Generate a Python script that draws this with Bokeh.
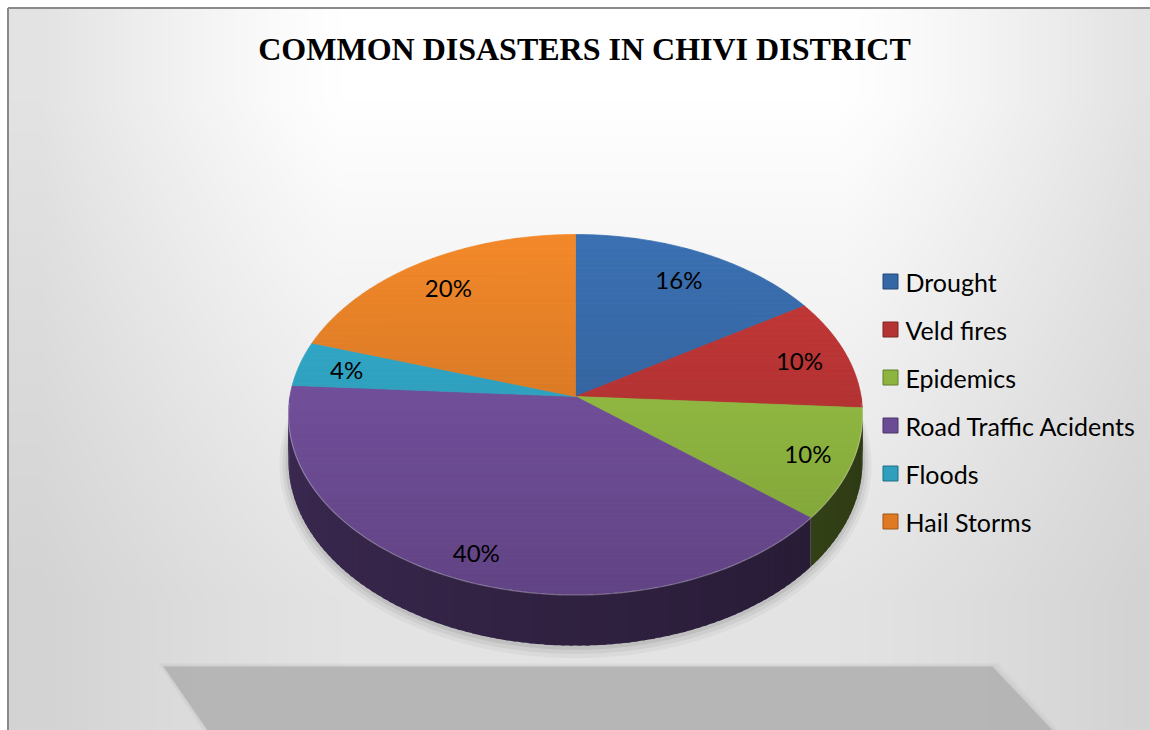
import numpy as np
from bokeh.plotting import figure
from bokeh.models import Range1d
from bokeh.core.properties import value
from bokeh.embed import file_html
from bokeh.resources import INLINE

# ---------------- data ----------------
categories = ["Drought", "Veld fires", "Epidemics", "Road Traffic Acidents", "Floods", "Hail Storms"]
percent = [16, 10, 10, 40, 4, 20]
slice_colors = ["#3a70b2", "#c83838", "#9fcb47", "#7c56a9", "#34b1d3", "#f38829"]
legend_colors = ["#3467a6", "#b43434", "#8db43f", "#6b4c94", "#2f9fbd", "#e07a22"]
title_text = "COMMON DISASTERS IN CHIVI DISTRICT"

# ---------------- layout ----------------
W, H = 1150, 730
X0, Y0 = 0, 0
FRAME = 7.5
CX, CY = 575.0, 396.0      # apex of pie (page px)
RX, RY = 285.6, 178.2      # projected radii
K = 0.1                    # perspective
DEPTH = 46.0

def Y(py):
    return -np.asarray(py, dtype=float)

def hex2rgb(h):
    h = h.lstrip("#")
    return np.array([int(h[i:i + 2], 16) for i in (0, 2, 4)], dtype=float)

def rgb2hex(c):
    c = np.clip(np.round(c), 0, 255).astype(int)
    return "#%02x%02x%02x" % tuple(c)

def proj(u, w):
    s = 1.0 / (1.0 - K * w)
    return CX + RX * u * s, CY + RY * w * s, s

def rim(theta_deg, r=1.0):
    t = np.radians(theta_deg)
    return proj(r * np.sin(t), -r * np.cos(t))

p = figure(width=W, height=H, x_range=Range1d(X0, X0 + W), y_range=Range1d(-(Y0 + H), -Y0),
           output_backend="svg", toolbar_location=None, min_border=0,
           x_axis_location=None, y_axis_location=None)
p.grid.visible = False
p.outline_line_color = None
p.background_fill_color = "#ffffff"
p.border_fill_color = "#ffffff"

# ---------------- background gradient ----------------
hh, ww = H // 2, W // 2
gy, gx = np.mgrid[0:hh, 0:ww]
px = X0 + (gx + 0.5) * W / ww
py = Y0 + (gy + 0.5) * H / hh
tx = np.clip((np.abs(px - 590) - 250) / 300, 0, 1) ** 1.2
ty = np.clip((py - 100) / 500, 0, 1)
v = 255 - 28 * tx - 28 * ty + 12 * tx * ty
v[(px < FRAME) | (py < FRAME)] = 255
img = np.empty((hh, ww), dtype=np.uint32)
view = img.view(dtype=np.uint8).reshape((hh, ww, 4))
vv = np.clip(v, 0, 255).astype(np.uint8)
view[:, :, 0] = vv
view[:, :, 1] = vv
view[:, :, 2] = vv
view[:, :, 3] = 255
img = img[::-1]
p.image_rgba(image=[img], x=X0, y=-(Y0 + H), dw=W, dh=H)

# ---------------- floor shadow ----------------
sh_top = CY + 270
sh_l0, sh_r0 = CX - 412, CX + 417
sh_bot = Y0 + H + 20
sl_l, sl_r = 0.69, 0.94
for i, (grow, a) in enumerate([(6, 0.08), (4, 0.1), (2, 0.15), (0, 0.9)]):
    xs = [sh_l0 - grow, sh_r0 + grow, sh_r0 + grow + sl_r * (sh_bot - sh_top), sh_l0 - grow + sl_l * (sh_bot - sh_top)]
    ys = [sh_top - grow * 0.6, sh_top - grow * 0.6, sh_bot, sh_bot]
    p.patch(xs, Y(ys), fill_color="#b2b2b2", fill_alpha=a, line_color=None)

# ---------------- pie shadow ----------------
th = np.linspace(0, 360, 181)
bx, by, bs = rim(th)
by = by + DEPTH * bs
for e, a in [(9, 0.04), (6, 0.05), (3, 0.07)]:
    dx, dy = bx - CX, by - (CY + DEPTH)
    n = np.hypot(dx, dy)
    p.patch(bx + dx / n * e, Y(by + dy / n * e + e * 0.4), fill_color="black", fill_alpha=a, line_color=None)

# ---------------- angles ----------------
total = float(sum(percent))
ends = np.cumsum(percent) / total * 360.0
starts = ends - np.array(percent) / total * 360.0

# ---------------- side walls ----------------
wxs, wys, wcols = [], [], []
for i in range(len(percent)):
    a0, a1 = max(starts[i], 90.0), min(ends[i], 270.0)
    if a1 <= a0:
        continue
    base = hex2rgb(slice_colors[i])
    nseg = max(1, int(np.ceil((a1 - a0) / 1.5)))
    edges = np.linspace(a0, a1, nseg + 1)
    for j in range(nseg):
        e1 = min(edges[j + 1] + 0.8, a1)
        ta = np.linspace(edges[j], e1, 3)
        x_t, y_t, s_t = rim(ta)
        y_b = y_t + DEPTH * s_t
        mid = 0.5 * (edges[j] + edges[j + 1])
        m = 0.27 + 0.22 * (mid - 90.0) / 180.0
        col = rgb2hex(base * m)
        wxs.append(list(x_t) + list(x_t[::-1]))
        wys.append(list(Y(y_t)) + list(Y(y_b[::-1])))
        wcols.append(col)
p.patches(wxs, wys, fill_color=wcols, line_color=None)

# ---------------- top faces (banded gradient) ----------------
def clip_half(poly, yl, keep_ge):
    out = []
    n = len(poly)
    for k in range(n):
        a = poly[k]
        b = poly[(k + 1) % n]
        ina = a[1] >= yl if keep_ge else a[1] <= yl
        inb = b[1] >= yl if keep_ge else b[1] <= yl
        if ina:
            out.append(a)
        if ina != inb:
            t = (yl - a[1]) / (b[1] - a[1])
            out.append((a[0] + t * (b[0] - a[0]), yl))
    return out

y_top = CY - RY / (1 + K)
y_bot = CY + RY / (1 - K)
band = 5.0
txs, tys, tcols = [], [], []
for i in range(len(percent)):
    base = hex2rgb(slice_colors[i])
    ang = np.linspace(starts[i], ends[i], max(3, int((ends[i] - starts[i]) / 1.0) + 2))
    rx_, ry_, _ = rim(ang)
    poly = [(CX, CY)] + list(zip(rx_, ry_))
    yb = y_top - 1
    while yb < y_bot + 1:
        q = clip_half(poly, yb, True)
        if len(q) >= 3:
            q = clip_half(q, yb + band, False)
        if len(q) >= 3:
            ym = yb + band / 2
            f = 1.0 - 0.22 * (ym - y_top) / (y_bot - y_top)
            col = rgb2hex(base * f)
            txs.append([pt[0] for pt in q])
            tys.append(list(Y([pt[1] for pt in q])))
            tcols.append(col)
        yb += band
p.patches(txs, tys, fill_color=tcols, line_color=tcols, line_width=0.7)

# rim highlight
ha = np.linspace(92, 268, 120)
hx, hy, _ = rim(ha)
p.line(hx, Y(hy + 0.5), line_color="#ffffff", line_alpha=0.3, line_width=1.2)

# ---------------- percentage labels ----------------
mids = 0.5 * (starts + ends)
label_r = 0.8 + 0.07 * (1 - np.cos(np.radians(mids))) / 2
lx, ly, _ = rim(mids, label_r)
p.text(x=lx, y=Y(ly), text=["%d%%" % v_ for v_ in percent], text_align="center",
       text_baseline="middle", text_font=value("Lato"), text_font_size="24px", text_color="#000000")

# ---------------- legend ----------------
leg_x, leg_y0, leg_dy = 890, 281, 48
ly_leg = np.array([leg_y0 + leg_dy * i for i in range(len(categories))], dtype=float)
p.scatter(x=[leg_x] * len(categories), y=Y(ly_leg), marker="square", size=15,
          fill_color=legend_colors, line_color=[rgb2hex(hex2rgb(c) * 0.7) for c in legend_colors], line_width=1)
p.text(x=[leg_x + 15] * len(categories), y=Y(ly_leg), text=categories, text_align="left",
       text_baseline="middle", text_font=value("Lato"), text_font_size="25px", text_color="#000000")

# ---------------- title ----------------
p.text(x=[584], y=Y([48]), text=[title_text], text_align="center", text_baseline="middle",
       text_font=value("Liberation Serif"), text_font_style="bold", text_font_size="32px", text_color="#000000")

# ---------------- frame (left & top edges) ----------------
p.line([FRAME, FRAME], Y([FRAME, Y0 + H]), line_color="#8a8a8a", line_width=2)
p.line([FRAME, X0 + W], Y([FRAME, FRAME]), line_color="#8a8a8a", line_width=2)

open("out.html", "w").write(file_html(p, INLINE))
